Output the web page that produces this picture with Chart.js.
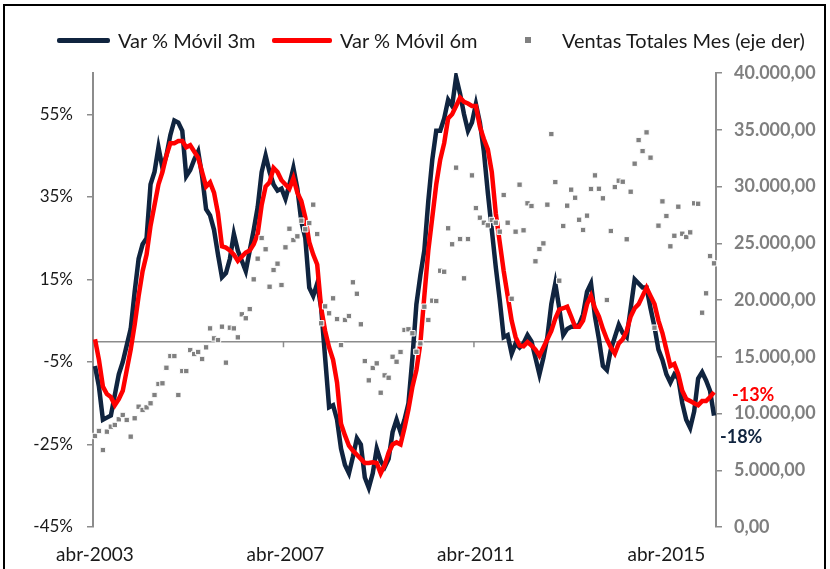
<!DOCTYPE html>
<html lang="es">
<head>
<meta charset="UTF-8">
<title>Var % Móvil ventas</title>
<script src="https://cdn.jsdelivr.net/npm/chart.js@4.4.1/dist/chart.umd.min.js"></script>
<style>
* { margin: 0; padding: 0; box-sizing: border-box; }
body { background: #fff; width: 830px; height: 569px; overflow: hidden; position: relative; font-family: Lato, "Open Sans", sans-serif; }
.frame { position: absolute; left: 3px; top: 4px; width: 823px; height: 600px; border: 2px solid #000; }
canvas { position: absolute; left: 0; top: 0; }
.legend span { position: absolute; font-size: 20px; color: #1a1a1a; line-height: 22px; }
.legend i { position: absolute; display: block; }
</style>
</head>
<body>
<div class="frame"></div>
<canvas id="chart" width="830" height="569"></canvas>
<div class="legend">
    <i style="left:57px;top:38px;width:53px;height:5px;background:#10243f;border-radius:2px"></i>
    <span style="left:118px;top:29px">Var % Móvil 3m</span>
    <i style="left:272px;top:38px;width:60px;height:5px;background:#ff0000;border-radius:2px"></i>
    <span style="left:340px;top:29px">Var % Móvil 6m</span>
    <i style="left:525px;top:37px;width:6px;height:6px;background:#808080"></i>
    <span style="left:562px;top:29px">Ventas Totales Mes (eje der)</span>
</div>
<script>
// monthly series, abr-2003 .. abr-2016
var meses = ['ene', 'feb', 'mar', 'abr', 'may', 'jun', 'jul', 'ago', 'sep', 'oct', 'nov', 'dic'];
var startYear = 2003, startMonth = 3, nMonths = 157;

var movil3m = [-6, -11, -19, -18.5, -18, -13, -8, -5, -1, 3,
    12, 20, 23.5, 25, 38, 41, 47, 42, 45, 50,
    53.5, 53, 51, 40, 41.5, 44, 46, 40, 32, 30.5,
    27, 21, 15.5, 16.5, 20, 26, 22, 19.5, 17, 22,
    27, 32.5, 41, 45, 41, 38, 36.5, 37, 34.5, 38,
    42, 37, 29, 25, 13, 11, 14, 8, -4, -16,
    -15.5, -19, -26, -30, -32, -28, -23.5, -25, -33, -35.5,
    -32, -26, -29, -30.5, -28.5, -22, -19, -22, -19, -15,
    -4, 9, 16, 22, 34, 44, 51, 51, 54, 58.5,
    57, 64, 60, 55, 51, 53, 57.5, 53, 46, 36,
    27, 18, 10, 1, 1.5, -3, -0.5, -1.5, -0.5, 1.5,
    0, -4, -8, -4, 1, 9, 14, 8, 1.5, 3,
    3.5, 3.5, 4, 6.5, 12, 14, 6, 0.5, -6, -7,
    -2, 1, 4, 2, 1, 8, 15, 14, 13, 13,
    8, 3.5, -2, -4.5, -8, -10, -8, -9, -15, -19,
    -21, -17, -9, -7.5, -9.5, -12, -18];

var movil6m = [0.5, -4.5, -11, -12.8, -13.5, -15.5, -14, -12, -7, -2,
    4, 11, 17, 21, 28, 33, 38, 41, 45, 48,
    48, 48.5, 48.5, 47, 47.5, 46, 44.5, 41, 37.5, 38.5,
    36, 31, 23, 22.7, 22, 21, 19.5, 20.5, 21.5, 22,
    23.5, 26, 33, 37.5, 38.5, 42, 41, 39, 38, 37,
    39.5, 36, 34, 30, 24, 21, 18.6, 8, 2.5, -1.5,
    -4.5, -10, -20, -22.8, -25.3, -26.5, -27.5, -28.5, -29.5, -29.5,
    -29.3, -29.5, -32, -30, -27, -25, -24.5, -25, -21, -16.5,
    -11, -7, -0.5, 11, 22, 30, 38, 44, 48, 54,
    55, 57, 59, 58, 57.6, 57, 57, 52, 49, 46.5,
    41, 31, 24, 17, 11, 5, 1, -1, -1.2, -0.2,
    -1, -2, -3.5, -1.5, 0.5, 2.5, 5.5, 7.7, 8, 8.4,
    6, 3.5, 3.5, 5, 9, 11, 8, 6, 3, 0.5,
    -1.5, -3, -0.5, 0.5, 2.5, 6, 8, 9, 11, 13,
    11, 9, 5, 2, -2, -6, -5.5, -8, -12, -14,
    -14.5, -15, -15.5, -14.5, -14.5, -13.5, -12.3];

var ventas = [8020, 8460, 6780, 8400, 8840, 8990, 9490, 9870, 9430, 7960,
    9580, 10600, 10310, 10540, 10900, 11630, 12600, 12660, 14030, 15060,
    15060, 11630, 13740, 13740, 15590, 15240, 15420, 14800, 15830, 17500,
    16620, 16470, 17650, 14480, 17560, 17500, 16710, 18740, 18390, 19200,
    21820, 23640, 25460, 24470, 21170, 22640, 23200, 21320, 24640, 26280,
    25280, 25610, 26990, 26230, 26780, 28400, 25810, 17950, 19440, 18830,
    20150, 18320, 16030, 18240, 18590, 21560, 20550, 17860, 14620, 12920,
    14010, 14420, 11830, 13360, 13150, 15000, 14560, 15420, 17360, 17420,
    17070, 15440, 16180, 19410, 18240, 19940, 19910, 22580, 22490, 26320,
    24910, 31660, 25370, 21910, 25370, 30980, 28100, 27250, 26810, 26580,
    27050, 26810, 26020, 29250, 26810, 20110, 26020, 30160, 26140, 28520,
    28280, 23410, 24490, 24990, 28400, 34620, 30390, 21700, 26520, 28310,
    29720, 29010, 27070, 26170, 27430, 29780, 30980, 29800, 28960, 20000,
    26080, 29950, 30510, 30420, 25350, 29540, 32010, 34090, 33120, 34770,
    32540, 17560, 26550, 28690, 27400, 24730, 25660, 28220, 25840, 25550,
    25960, 28520, 28480, 18880, 20590, 23870, 23230];

var leftTicks = [-45, -25, -5, 0, 15, 35, 55];
var endLabels = ['-18%', '-13%'];

var labels = [];
for (var i = 0; i < nMonths; i++) {
    var m = startMonth + i;
    labels.push(meses[m % 12] + '-' + (startYear + Math.floor(m / 12)));
}

var navy = '#10243f';
var red = '#ff0000';
var axisGray = '#8c8c8c';
var font = 'Lato, "Open Sans", sans-serif';

function miles(v) {
    return Math.round(v).toString().replace(/\B(?=(\d{3})+(?!\d))/g, '.') + ',00';
}

// small tick marks on the 0% line every 4 years + end value labels
var extras = {
    id: 'extras',
    beforeDatasetsDraw: function(chart) {
        var xs = chart.scales.x, ys = chart.scales.y, ctx = chart.ctx;
        var y0 = ys.getPixelForValue(0);
        ctx.save();
        ctx.strokeStyle = axisGray;
        ctx.lineWidth = 1.5;
        [48, 96, 144].forEach(function(i) {
            var x = (xs.getPixelForValue(i - 1) + xs.getPixelForValue(i)) / 2;
            ctx.beginPath();
            ctx.moveTo(x, y0);
            ctx.lineTo(x, y0 + 6);
            ctx.stroke();
        });
        ctx.restore();
    },
    afterDatasetsDraw: function(chart) {
        var ctx = chart.ctx;
        var p3 = chart.getDatasetMeta(1).data[nMonths - 1];
        var p6 = chart.getDatasetMeta(2).data[nMonths - 1];
        ctx.save();
        ctx.font = 'bold 18px ' + font;
        ctx.textBaseline = 'middle';
        ctx.textAlign = 'left';
        ctx.fillStyle = navy;
        ctx.fillText(endLabels[0], p3.x + 6, p3.y + 22);
        ctx.fillStyle = red;
        ctx.fillText(endLabels[1], p6.x + 18, p6.y + 3);
        ctx.restore();
    }
};

new Chart(document.getElementById('chart'), {
    type: 'line',
    data: {
        labels: labels,
        datasets: [{
            label: 'Ventas Totales Mes (eje der)',
            data: ventas,
            yAxisID: 'y2',
            showLine: false,
            pointStyle: 'rect',
            pointRadius: 3.8,
            backgroundColor: '#808080',
            pointBorderColor: '#ffffff',
            pointBorderWidth: 1,
            order: 0
        }, {
            label: 'Var % Móvil 3m',
            data: movil3m,
            yAxisID: 'y',
            borderColor: navy,
            backgroundColor: navy,
            borderWidth: 4.5,
            pointRadius: 0,
            tension: 0,
            order: 2
        }, {
            label: 'Var % Móvil 6m',
            data: movil6m,
            yAxisID: 'y',
            borderColor: red,
            backgroundColor: red,
            borderWidth: 4.5,
            pointRadius: 0,
            tension: 0,
            order: 1
        }]
    },
    options: {
        responsive: false,
        animation: false,
        layout: { padding: { top: 73, left: 0, right: 0, bottom: 0 } },
        plugins: { legend: { display: false }, tooltip: { enabled: false } },
        scales: {
            x: {
                type: 'category',
                offset: true,
                afterFit: function(s) { s.height = 42; },
                grid: { display: false, drawTicks: false },
                border: { display: false },
                ticks: {
                    autoSkip: false,
                    maxRotation: 0,
                    padding: 16,
                    color: '#1a1a1a',
                    font: { family: font, size: 19 },
                    callback: function(v, i) { return i % 48 === 0 ? this.getLabelForValue(v) : ''; }
                }
            },
            y: {
                position: 'left',
                min: -45,
                max: 65,
                afterFit: function(s) { s.width = 93; },
                afterBuildTicks: function(s) {
                    s.ticks = leftTicks.map(function(v) { return { value: v }; });
                },
                border: { display: true, color: axisGray, width: 2 },
                grid: {
                    drawOnChartArea: true,
                    tickLength: 6,
                    lineWidth: 1.5,
                    color: function(c) { return c.tick && c.tick.value === 0 ? axisGray : 'rgba(0,0,0,0)'; },
                    tickColor: function(c) { return c.tick && c.tick.value === 0 ? 'rgba(0,0,0,0)' : axisGray; }
                },
                ticks: {
                    padding: 14,
                    color: '#1a1a1a',
                    font: { family: font, size: 17 },
                    callback: function(v) { return v === 0 ? '' : v + '%'; }
                }
            },
            y2: {
                position: 'right',
                min: 0,
                max: 40000,
                afterFit: function(s) { s.width = 114; },
                border: { display: true, color: axisGray, width: 2 },
                grid: { drawOnChartArea: false, tickLength: 6, color: axisGray, lineWidth: 1.5 },
                ticks: {
                    stepSize: 5000,
                    padding: 12,
                    color: '#7f7f7f',
                    font: { family: font, size: 18, weight: 'bold' },
                    callback: function(v) { return miles(v); }
                }
            }
        }
    },
    plugins: [extras]
});
</script>
</body>
</html>
